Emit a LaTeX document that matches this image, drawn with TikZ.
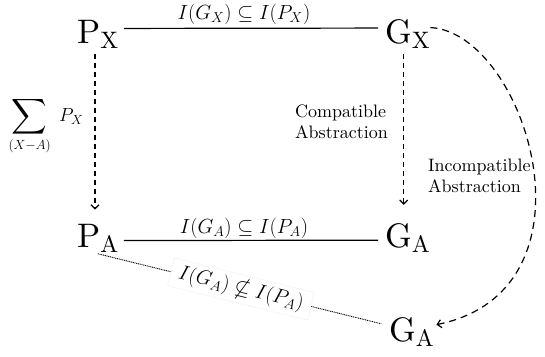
\RequirePackage{fix-cm}
\documentclass[tikz,border=0pt]{standalone}
\usepackage{amsmath,amssymb}
\usepackage{fontspec}
\setmainfont{lmroman10-regular}[Extension=.otf]
\usepackage{graphicx}
\usetikzlibrary{arrows.meta}

\begin{document}
\begin{tikzpicture}[x=1pt, y=-1pt,
  big/.style={inner sep=0pt, anchor=base west, font=\fontsize{34}{40}\selectfont},
  lbl/.style={inner sep=1pt, font=\fontsize{20.5}{24}\selectfont},
  note/.style={inner sep=0pt, anchor=north west, align=left, font=\fontsize{18}{21}\selectfont},
  abstr/.style={line width=1.2pt, dash pattern=on 5pt off 4pt, -{Straight Barb[length=4pt, width=8pt]}}]
  \useasboundingbox (0,0) rectangle (545,356);

  \node[big] (px) at (77,43) {P$_\mathrm{X}$};
  \node[big] (gx) at (385,43) {G$_\mathrm{X}$};
  \node[big] (pa) at (77,247) {P$_\mathrm{A}$};
  \node[big] (ga) at (385,247) {G$_\mathrm{A}$};
  \node[big] (gb) at (389,341) {G$_\mathrm{A}$};

  % inclusions
  \draw[line width=1.2pt] ([xshift=5pt, yshift=5.5pt]px.east) -- node[lbl, above=2pt, xshift=-7pt] {$I(G_X)\subseteq I(P_X)$} ([xshift=-7pt, yshift=5.5pt]gx.west);
  \draw[line width=1.2pt] ([xshift=5pt, yshift=-2.5pt]pa.east) -- node[lbl, above=0pt, xshift=-7pt] {$I(G_A)\subseteq I(P_A)$} ([xshift=-7pt, yshift=-2.5pt]ga.west);
  \draw[line width=0.9pt, dash pattern=on 1pt off 0.8pt, shorten <=5pt, shorten >=8pt] ([xshift=-5pt]pa.south) -- node[lbl, sloped, fill=white, draw=black!5, inner xsep=8pt, inner ysep=3pt] {$I(G_A)\nsubseteq I(P_A)$} ([yshift=6pt]gb.west);

  % abstractions
  \draw[abstr, shorten <=6pt, shorten >=14pt] ([xshift=-3pt]px.south) -- ([xshift=-3pt]pa.north);
  \draw[abstr, shorten <=6pt, shorten >=18pt] ([xshift=-4pt]gx.south) -- ([xshift=-4pt]ga.north);
  \draw[abstr, dash pattern=on 7pt off 5pt] ([yshift=6pt]gx.east) .. controls +(95,5) and +(170,-35) .. ([xshift=2pt, yshift=7pt]gb.east);

  \node (sum) at (46,126) {\fontsize{19}{22}\selectfont $\displaystyle\mathop{\vcenter{\hbox{\scalebox{1.3}{$\displaystyle\sum$}}}}\limits_{(X-A)}\; P_X$};
  \node[note] (cmp) at (295,105) {Compatible\\Abstraction};
  \node[note] (inc) at (428,159) {Incompatible\\Abstraction};
\end{tikzpicture}
\end{document}
